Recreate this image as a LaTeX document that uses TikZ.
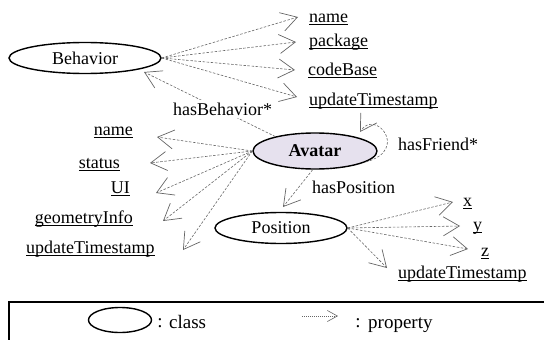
\documentclass[tikz,border=0pt]{standalone}
\usepackage{fontspec}
\setmainfont{Liberation Serif}
\usetikzlibrary{shapes.geometric,arrows.meta}

% word-style underline at a fixed depth below the baseline
\newsavebox\ulbox
\newcommand\ulword[1]{\sbox\ulbox{#1}\rlap{\rule[-3pt]{\wd\ulbox}{0.8pt}}\usebox\ulbox}

\definecolor{avfill}{HTML}{E6E1EE}
\definecolor{dashgray}{HTML}{666666}
\definecolor{tipgray}{HTML}{333333}

\tikzset{
  classnode/.style={ellipse, draw=black, line width=1.4pt, inner sep=0pt,
    font=\fontsize{18}{21}\selectfont},
  lbl/.style={inner sep=0pt, font=\fontsize{18}{21}\selectfont},
  legend/.style={inner sep=0pt, font=\fontsize{19}{22}\selectfont},
  prop/.style={draw=dashgray, line width=0.6pt, dash pattern=on 2.5pt off 1.6pt,
    -{Straight Barb[length=16pt,width=19pt,line width=0.7pt]}}
}

\begin{document}
\begin{tikzpicture}[x=1pt,y=-1pt]
\useasboundingbox (0,0) rectangle (544,340);
\clip (0,0) rectangle (544,340);

% classes
\node[classnode, minimum width=152pt, minimum height=31pt] (Behavior) at (85,58) {Behavior};
\node[classnode, fill=avfill, minimum width=124pt, minimum height=36pt] (Avatar) at (315,151) {\textbf{Avatar}};
\node[classnode, minimum width=132pt, minimum height=31pt] (Position) at (281,228) {Position};

% properties of Behavior
\node[lbl, anchor=base west] (bname) at (309,22) {\ulword{name}};
\node[lbl, anchor=base west] (bpkg)  at (309,46) {\ulword{package}};
\node[lbl, anchor=base west] (bcode) at (308,75) {\ulword{codeBase}};
\node[lbl, anchor=base west] (bupd)  at (309,105) {\ulword{updateTimestamp}};
\coordinate (tbname) at (298,17);
\coordinate (tbpkg)  at (296,42);
\coordinate (tbcode) at (295,70);
\coordinate (tbupd)  at (297,97);
\foreach \t in {tbname,tbpkg,tbcode,tbupd}
  \draw[prop] (Behavior.east) -- (\t);

% properties of Avatar
\node[lbl, anchor=base east] (aname)   at (133,135) {\ulword{name}};
\node[lbl, anchor=base east] (astatus) at (120,168) {\ulword{status}};
\node[lbl, anchor=base east] (aui)     at (130,193) {\ulword{UI}};
\node[lbl, anchor=base east] (ageo)    at (133,223) {\ulword{geometryInfo}};
\node[lbl, anchor=base west] (aupd)    at (26,253) {\ulword{updateTimestamp}};
\coordinate (taname)   at (157,137);
\coordinate (tastatus) at (150,163);
\coordinate (taui)     at (156,193);
\coordinate (tageo)    at (163,221);
\coordinate (taupd)    at (183,250);
\foreach \t in {taname,tastatus,taui,tageo,taupd}
  \draw[prop] (Avatar.west) -- (\t);

% properties of Position
\node[lbl, anchor=base west] (px)   at (463,206) {\ulword{x}};
\node[lbl, anchor=base west] (py)   at (473,230) {\ulword{y}};
\node[lbl, anchor=base west] (pz)   at (481,256) {\ulword{z}};
\node[lbl, anchor=base west] (pupd) at (398,278) {\ulword{updateTimestamp}};
\coordinate (tpx)   at (453,202);
\coordinate (tpy)   at (460,226);
\coordinate (tpz)   at (468,249);
\coordinate (tpupd) at (387,268);
\foreach \t in {tpx,tpy,tpz,tpupd}
  \draw[prop] (Position.east) -- (\t);

% relations
\coordinate (tbeh) at (144,72);
\draw[prop] (Avatar.160) -- (tbeh);
\node[lbl, anchor=base west, fill=white, inner sep=3pt] (hasBeh) at (170,115) {hasBehavior*};

\coordinate (tpos) at (283,207);
\draw[prop] (Avatar.263) -- (tpos);
\node[lbl, anchor=base west] (hasPos) at (312,193) {hasPosition};

\coordinate (tfr) at (360,132);
\draw[prop] (Avatar.-12) .. controls (410,150) and (375,108) .. (tfr);
\node[lbl, anchor=base west] (hasFr) at (398,150) {hasFriend*};

% legend
\draw[line width=1.3pt] (9,302) rectangle (600,400);
\node[ellipse, draw=black, line width=1.4pt, minimum width=63pt, minimum height=25pt, inner sep=0pt] (legcls) at (120,320) {};
\node[legend, anchor=base] (col1) at (160,327) {:};
\node[legend, anchor=base west] (clsword) at (169,328) {class};
\coordinate (legA) at (302,316);
\coordinate (legB) at (338,316);
\draw[draw=dashgray, line width=0.6pt, dash pattern=on 1pt off 1pt,
  -{Straight Barb[length=10pt,width=11pt,line width=0.6pt]}] (legA) -- (legB);
\node[legend, anchor=base] (col2) at (358,327) {:};
\node[legend, anchor=base west] (propword) at (368,328) {property};
\end{tikzpicture}
\end{document}
